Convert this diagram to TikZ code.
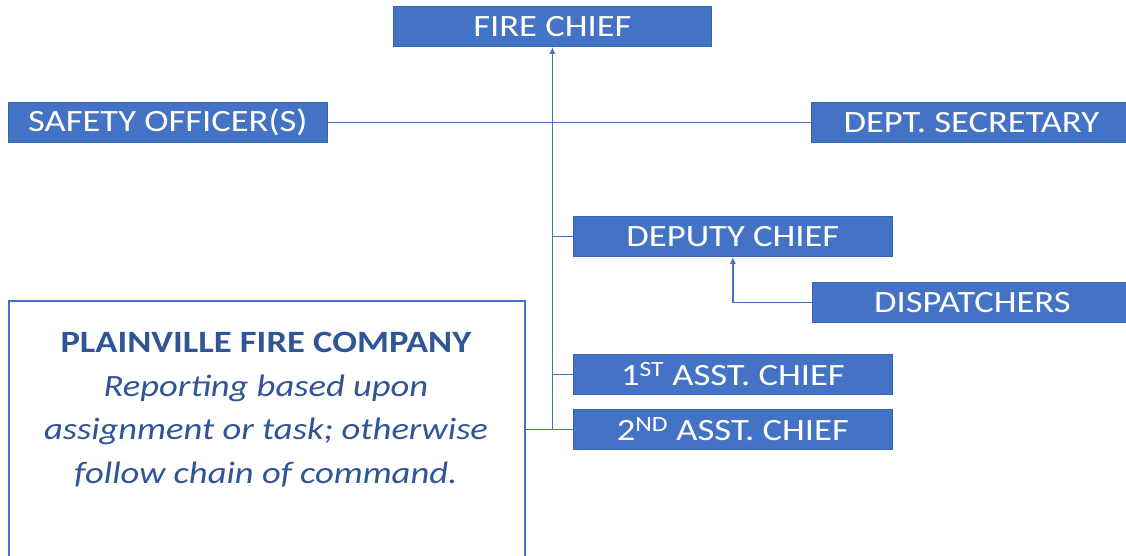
\documentclass[tikz,border=0pt]{standalone}
\usepackage{fontspec}
\setmainfont[FakeStretch=1.18]{Carlito}
\usetikzlibrary{arrows.meta}
\definecolor{boxblue}{HTML}{4472C4}
\definecolor{edgeblue}{HTML}{3A64B0}
\definecolor{textblue}{HTML}{2F5597}
\tikzset{
  x=1pt, y=1pt,
  rolebox/.style={draw=edgeblue, line width=0.8pt, fill=boxblue, text=white,
    inner sep=0pt, anchor=north west, font=\fontsize{31}{36}\selectfont},
  link/.style={draw=boxblue, line width=1.5pt},
  uparrow/.style={link, -{Latex[length=7pt,width=6pt]}},
}
\begin{document}
\begin{tikzpicture}
\useasboundingbox (0,0) rectangle (1126,-556);
\clip (0,0) rectangle (1126,-556);
\node[rolebox, minimum width=318, minimum height=40] (chief) at (393,-6) {FIRE CHIEF};
\node[rolebox, minimum width=319, minimum height=40] (safety) at (8,-102) {SAFETY OFFICER(S)};
\node[rolebox, minimum width=320, minimum height=40] (secretary) at (811,-102) {DEPT. SECRETARY};
\node[rolebox, minimum width=319, minimum height=40] (deputy) at (573,-216) {DEPUTY CHIEF};
\node[rolebox, minimum width=320, minimum height=40] (dispatchers) at (812,-282) {DISPATCHERS};
\node[rolebox, minimum width=319, minimum height=40] (asst1) at (573,-354) {1\textsuperscript{ST} ASST. CHIEF};
\node[rolebox, minimum width=319, minimum height=40] (asst2) at (573,-409) {2\textsuperscript{ND} ASST. CHIEF};
\node[draw=boxblue, line width=1.5pt, anchor=north west, minimum width=516, minimum height=300, inner sep=0pt] (company) at (8,-300) {};
\node[text=textblue, align=center, anchor=north, inner sep=0pt, font=\fontsize{31}{43.5}\selectfont] (companytext) at (266,-332)
  {\textbf{PLAINVILLE FIRE COMPANY}\\ \textit{Reporting based upon}\\ \textit{assignment or task; otherwise}\\ \textit{follow chain of command.}};
\draw[link] (safety.east) -- (secretary.west);
\draw[link] (company.east |- asst2.west) -- (asst2.west);
\draw[uparrow] (asst2.west -| chief.south) -- (chief.south);
\draw[link] (deputy.west) -- (deputy.west -| chief.south);
\draw[link] (asst1.west) -- (asst1.west -| chief.south);
\draw[uparrow] (dispatchers.west) -| (deputy.south);
\end{tikzpicture}
\end{document}
